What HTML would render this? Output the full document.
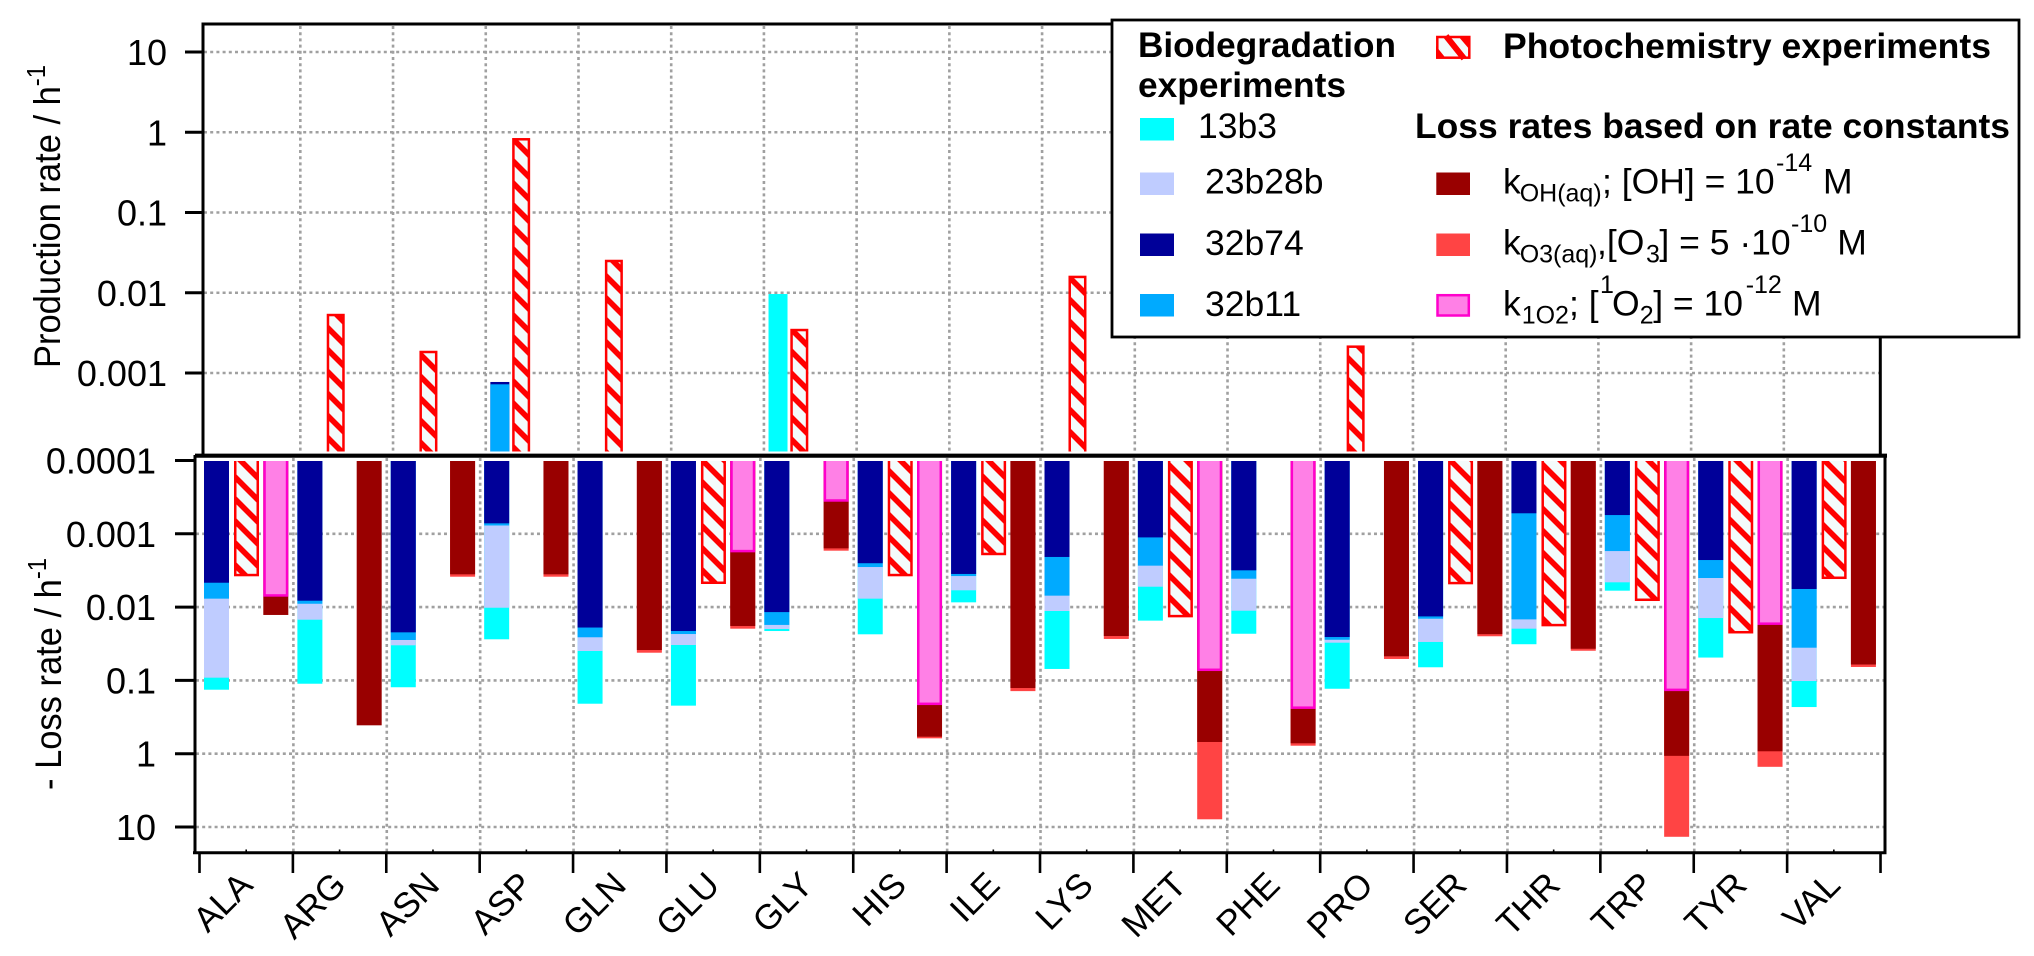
<!DOCTYPE html>
<html lang="en">
<head>
<meta charset="utf-8">
<title>Amino acid production and loss rates</title>
<style>
html,body{margin:0;padding:0;background:#fff}
svg{display:block;font-family:"Liberation Sans",Arial,sans-serif}
</style>
</head>
<body>
<svg id="chart" xmlns="http://www.w3.org/2000/svg" width="2034" height="956" viewBox="0 0 2034 956">
  <defs>
    <pattern id="hatch" patternUnits="userSpaceOnUse" width="22" height="22">
      <rect width="22" height="22" fill="#f4fbfb"></rect>
      <path d="M-3,-3 L25,25 M-3,19 L3,25 M19,-3 L25,3" stroke="#ff0000" stroke-width="5.6" fill="none"></path>
    </pattern>
    <clipPath id="clip-top"><rect x="204" y="20" width="1680" height="431.5"></rect></clipPath>
    <clipPath id="clip-bottom"><rect x="196" y="461" width="1690" height="392"></rect></clipPath>
  </defs>
  <rect width="2034" height="956" fill="#ffffff"></rect>
  <g id="grid"></g>
  <g id="top-bars" clip-path="url(#clip-top)"></g>
  <g id="bottom-bars" clip-path="url(#clip-bottom)"></g>
  <g id="axes"></g>
  <text transform="translate(60,368) rotate(-90) scale(0.92,1)" font-size="37.5" fill="#000">Production rate / h<tspan font-size="26" dy="-15">-1</tspan></text>
  <text transform="translate(61,790) rotate(-90) scale(0.92,1)" font-size="37.5" fill="#000">- Loss rate / h<tspan font-size="26" dy="-15">-1</tspan></text>

  <g>
    <rect x="1112" y="20" width="907" height="317" fill="#ffffff" stroke="#000" stroke-width="2.8"></rect>
    <text x="1138" y="57" font-size="35" font-weight="700" textLength="258" lengthAdjust="spacingAndGlyphs">Biodegradation</text>
    <text x="1138" y="97" font-size="35" font-weight="700" textLength="208" lengthAdjust="spacingAndGlyphs">experiments</text>
    <text x="1503" y="58" font-size="35" font-weight="700" textLength="488" lengthAdjust="spacingAndGlyphs">Photochemistry experiments</text>
    <text x="1415" y="138" font-size="35" font-weight="700" textLength="595" lengthAdjust="spacingAndGlyphs">Loss rates based on rate constants</text>

    <rect x="1140" y="118" width="34" height="22.5" fill="#00ffff"></rect>
    <text x="1198" y="138" font-size="35.5">13b3</text>
    <rect x="1140" y="172.5" width="34" height="22.5" fill="#bfccff"></rect>
    <text x="1205" y="193.5" font-size="35.5">23b28b</text>
    <rect x="1140" y="233.5" width="34" height="22.5" fill="#000099"></rect>
    <text x="1205" y="255" font-size="35.5">32b74</text>
    <rect x="1140" y="294" width="34" height="22.5" fill="#00aaff"></rect>
    <text x="1205" y="316" font-size="35.5">32b11</text>

    <g>
      <rect x="1437.3" y="37" width="32" height="20.7" fill="#f4fbfb" stroke="#ff0000" stroke-width="2.5"></rect>
      <path d="M1446,36 L1464,58.5" stroke="#ff0000" stroke-width="6" fill="none"></path>
      <path d="M1436,46 L1446,58.5 L1436,58.5 Z M1458,36 L1470,36 L1470,50 Z" fill="#ff0000"></path>
    </g>
    <rect x="1436.3" y="172.5" width="33.7" height="22.5" fill="#990000"></rect>
    <text x="1503" y="193.5" font-size="35.5">k<tspan font-size="25" x="1519.7" y="201.5">OH(aq)</tspan><tspan x="1602" y="193.5">; [OH] = 10</tspan><tspan font-size="25" x="1776" y="171">-14</tspan><tspan x="1823" y="193.5">M</tspan></text>
    <rect x="1436.3" y="233.5" width="33.7" height="22.5" fill="#ff4444"></rect>
    <text x="1503" y="254.5" font-size="35.5">k<tspan font-size="25" x="1519.7" y="262.5">O3(aq)</tspan><tspan x="1597" y="254.5">,[O</tspan><tspan font-size="25" x="1646" y="262.5">3</tspan><tspan x="1659.4" y="254.5">] = 5 ·10</tspan><tspan font-size="25" x="1791" y="232">-10</tspan><tspan x="1837.3" y="254.5">M</tspan></text>
    <rect x="1437.5" y="295.2" width="31.3" height="20.3" fill="#ff80e6" stroke="#ff00cc" stroke-width="2.5"></rect>
    <text x="1503" y="315.5" font-size="35.5">k<tspan font-size="25" x="1521.7" y="323.5">1O2</tspan><tspan x="1569" y="315.5">; [</tspan><tspan font-size="25" x="1600" y="293">1</tspan><tspan x="1612" y="315.5">O</tspan><tspan font-size="25" x="1639.7" y="323.5">2</tspan><tspan x="1653.2" y="315.5">] = 10</tspan><tspan font-size="25" x="1745.7" y="293">-12</tspan><tspan x="1792" y="315.5">M</tspan></text>
  </g>
</svg>
<script>
// Chart data. null means no bar.
const categories = ["ALA","ARG","ASN","ASP","GLN","GLU","GLY","HIS","ILE","LYS","MET","PHE","PRO","SER","THR","TRP","TYR","VAL"];
const topTickLabels = ["10","1","0.1","0.01","0.001"];
const topTickValues = [10,1,0.1,0.01,0.001];
const bottomTickLabels = ["0.0001","0.001","0.01","0.1","1","10"];
const bottomTickValues = [0.0001,0.001,0.01,0.1,1,10];

// Production rates (upper panel)
const production13b3 =  [null,null,null,null,null,null,0.00964,null,null,null,null,null,null,null,null,null,null,null];
const production32b11 = [null,null,null,0.000723,null,null,null,null,null,null,null,null,null,null,null,null,null,null];
const production32b74 = [null,null,null,0.000773,null,null,null,null,null,null,null,null,null,null,null,null,null,null];
const productionPhoto = [null,0.00543,0.00188,0.841,0.0256,null,0.00353,null,null,0.0162,null,null,0.00219,null,null,null,null,null];

// Loss rates (lower panel)
const loss32b74 =  [0.00465,0.00818,0.0221,0.00072,0.019,0.0212,0.0117,0.00252,0.00353,0.00207,0.00112,0.00315,0.0256,0.0134,0.000525,0.000555,0.00228,0.00566];
const loss32b11 =  [0.00767,0.009,0.0281,0.00077,0.0258,0.0233,0.0175,0.00284,0.00377,0.00698,0.00272,0.0041,0.0279,0.0144,0.0147,0.00172,0.00401,0.0358];
const loss23b28b = [0.0918,0.01486,0.0332,0.0102,0.0397,0.0329,0.0199,0.00767,0.0059,0.0113,0.00527,0.0112,0.0306,0.0299,0.0197,0.00459,0.0141,0.102];
const loss13b3 =   [0.134,0.111,0.124,0.0275,0.208,0.221,0.0212,0.0235,0.00861,0.0698,0.0153,0.0231,0.13,0.0662,0.0321,0.00597,0.0488,0.231];
const lossPhoto =  [0.0038,null,null,null,null,0.00484,null,0.0038,0.00196,null,0.0138,null,null,0.00489,0.0183,0.00826,0.0229,0.00414];
const loss1O2 =    [0.00721,null,null,null,null,0.00179,0.000365,0.217,null,null,0.0745,0.245,null,null,null,0.14,0.0175,null];
const lossOH =     [0.0128,0.41,0.00357,0.00357,0.0385,0.0181,0.00158,0.586,0.127,0.0248,0.692,0.721,0.0469,0.0234,0.037,1.07,0.927,0.0607];
const lossO3 =     [null,null,0.00385,0.00385,0.0419,0.0197,0.0017,0.617,0.14,0.0272,7.85,0.778,0.051,0.025,0.0394,13.6,1.51,0.0656];

const SVG_NS = "http://www.w3.org/2000/svg";

// Axis functions
function yTop(v){ return 373 - 80.25 * (Math.log10(v) + 3); }
function yBottom(v){ return 460.5 + 73.3 * (Math.log10(v) + 4); }
function xTopCat(i){ return 207.6 + 92.72 * i; }
function xBottomCat(i){ return 200 + 93.39 * i; }
function xBottomBar(i, slot){ return 204 + 93.39 * i + [0, 30, 59.3][slot]; }
function xTick(i){ return 199.5 + 93.39 * i; }

const gridG = document.getElementById("grid");
const topG = document.getElementById("top-bars");
const bottomG = document.getElementById("bottom-bars");
const axesG = document.getElementById("axes");

function line(parent, x1, y1, x2, y2, color, width, dash, name){
  const el = document.createElementNS(SVG_NS, "line");
  el.setAttribute("x1", x1);
  el.setAttribute("y1", y1);
  el.setAttribute("x2", x2);
  el.setAttribute("y2", y2);
  el.setAttribute("stroke", color);
  el.setAttribute("stroke-width", width);
  if (dash) el.setAttribute("stroke-dasharray", dash);
  
  
  parent.appendChild(el);
  return el;
}

function label(x, y, str, anchor, size, transform, name){
  const el = document.createElementNS(SVG_NS, "text");
  el.setAttribute("x", x);
  el.setAttribute("y", y);
  el.setAttribute("text-anchor", anchor);
  el.setAttribute("font-size", size);
  if (transform) el.setAttribute("transform", transform);
  el.textContent = str;
  
  
  axesG.appendChild(el);
  return el;
}

function bar(parent, x, yFrom, yTo, w, fill, stroke, name){
  const el = document.createElementNS(SVG_NS, "rect");
  const inset = stroke ? 1.25 : 0;
  el.setAttribute("x", x + inset);
  el.setAttribute("y", yFrom);
  el.setAttribute("width", w - 2 * inset);
  el.setAttribute("height", Math.max(0, yTo - yFrom - inset));
  el.setAttribute("fill", fill);
  if (stroke) {
    el.setAttribute("stroke", stroke);
    el.setAttribute("stroke-width", 2.5);
  }
  
  
  parent.appendChild(el);
  return el;
}

const GRID = "#a0a0a0";
const DASH = "3 3.2";

// Grid lines
topTickValues.forEach(function(v, k){
  line(gridG, 204, yTop(v), 1880, yTop(v), GRID, 2.6, DASH, "top-grid-h-" + topTickLabels[k]);
});
bottomTickValues.slice(1).forEach(function(v, k){
  line(gridG, 196, yBottom(v), 1885, yBottom(v), GRID, 2.6, DASH, "bottom-grid-h-" + bottomTickLabels[k + 1]);
});
for (let i = 1; i < categories.length; i++) {
  line(gridG, xTopCat(i), 26, xTopCat(i), 453, GRID, 2.6, DASH, "top-grid-v-" + categories[i]);
  line(gridG, xBottomCat(i), 458, xBottomCat(i), 852, GRID, 2.6, DASH, "bottom-grid-v-" + categories[i]);
}

// Upper panel bars
categories.forEach(function(cat, i){
  const xBio = xTopCat(i) + 4.6;
  const xPhoto = xTopCat(i) + 26.4;
  const base = 460;
  if (production13b3[i] !== null) bar(topG, xBio, yTop(production13b3[i]), base, 19, "#00ffff", null, "production-13b3-" + cat);
  if (production32b74[i] !== null) bar(topG, xBio, yTop(production32b74[i]), base, 19, "#000099", null, "production-32b74-" + cat);
  if (production32b11[i] !== null) bar(topG, xBio, yTop(production32b11[i]), base, 19, "#00aaff", null, "production-32b11-" + cat);
  if (productionPhoto[i] !== null) bar(topG, xPhoto, yTop(productionPhoto[i]) + 1, base, 18, "url(#hatch)", "#ff0000", "production-photochemistry-" + cat);
});

// Lower panel bars: each series is drawn from the baseline to its value, largest first
categories.forEach(function(cat, i){
  const base = 452;
  const w = 25;
  const x1 = xBottomBar(i, 0);
  const x2 = xBottomBar(i, 1);
  const x3 = xBottomBar(i, 2);
  if (loss13b3[i] !== null) bar(bottomG, x1, base, yBottom(loss13b3[i]), w, "#00ffff", null, "loss-13b3-" + cat);
  if (loss23b28b[i] !== null) bar(bottomG, x1, base, yBottom(loss23b28b[i]), w, "#bfccff", null, "loss-23b28b-" + cat);
  if (loss32b11[i] !== null) bar(bottomG, x1, base, yBottom(loss32b11[i]), w, "#00aaff", null, "loss-32b11-" + cat);
  if (loss32b74[i] !== null) bar(bottomG, x1, base, yBottom(loss32b74[i]), w, "#000099", null, "loss-32b74-" + cat);
  if (lossPhoto[i] !== null) bar(bottomG, x2, base, yBottom(lossPhoto[i]), w, "url(#hatch)", "#ff0000", "loss-photochemistry-" + cat);
  if (lossO3[i] !== null) bar(bottomG, x3, base, yBottom(lossO3[i]), w, "#ff4444", null, "loss-o3-" + cat);
  if (lossOH[i] !== null) bar(bottomG, x3, base, yBottom(lossOH[i]), w, "#990000", null, "loss-oh-" + cat);
  if (loss1O2[i] !== null) bar(bottomG, x3, base, yBottom(loss1O2[i]), w, "#ff80e6", "#ff00cc", "loss-1o2-" + cat);
});

// Axes and frame
line(axesG, 203, 24, 203, 456, "#000", 3, null, "top-y-axis");
line(axesG, 201.5, 24, 1112, 24, "#000", 3, null, "top-frame-line");
line(axesG, 1880.3, 337, 1880.3, 456, "#000", 3, null, "top-right-axis");
line(axesG, 195, 455.7, 1887, 455.7, "#000", 4.2, null, "panel-divider-line");
line(axesG, 195, 455, 195, 854, "#000", 3, null, "bottom-y-axis");
line(axesG, 1885, 455, 1885, 854, "#000", 3, null, "bottom-right-axis");
line(axesG, 193, 852.7, 1886.5, 852.7, "#000", 3, null, "bottom-x-axis");

// Upper y ticks
topTickValues.forEach(function(v, k){
  line(axesG, 185, yTop(v), 203, yTop(v), "#000", 3, null, "top-y-tick-" + topTickLabels[k]);
  label(167, yTop(v) + 13, topTickLabels[k], "end", 36, null, "top-y-tick-label-" + topTickLabels[k]);
});

// Lower y ticks
bottomTickValues.forEach(function(v, k){
  line(axesG, 175, yBottom(v), 195, yBottom(v), "#000", 3, null, "bottom-y-tick-" + bottomTickLabels[k]);
  label(156, yBottom(v) + 13, bottomTickLabels[k], "end", 36, null, "bottom-y-tick-label-" + bottomTickLabels[k]);
});

// X ticks and category labels
for (let i = 0; i <= categories.length; i++) {
  line(axesG, xTick(i), 852, xTick(i), 873, "#000", 2.6, null, "x-tick-" + i);
  if (i < categories.length) {
    line(axesG, xTick(i) + 46.7, 849.5, xTick(i) + 46.7, 852, "#000", 1.6, null, "x-minor-tick-" + i);
    const lx = xTick(i) + 55;
    const ly = 887;
    label(lx, ly, categories[i], "end", 35, "rotate(-45 " + lx + " " + ly + ")", "x-label-" + categories[i]);
  }
}
</script>
</body>
</html>
